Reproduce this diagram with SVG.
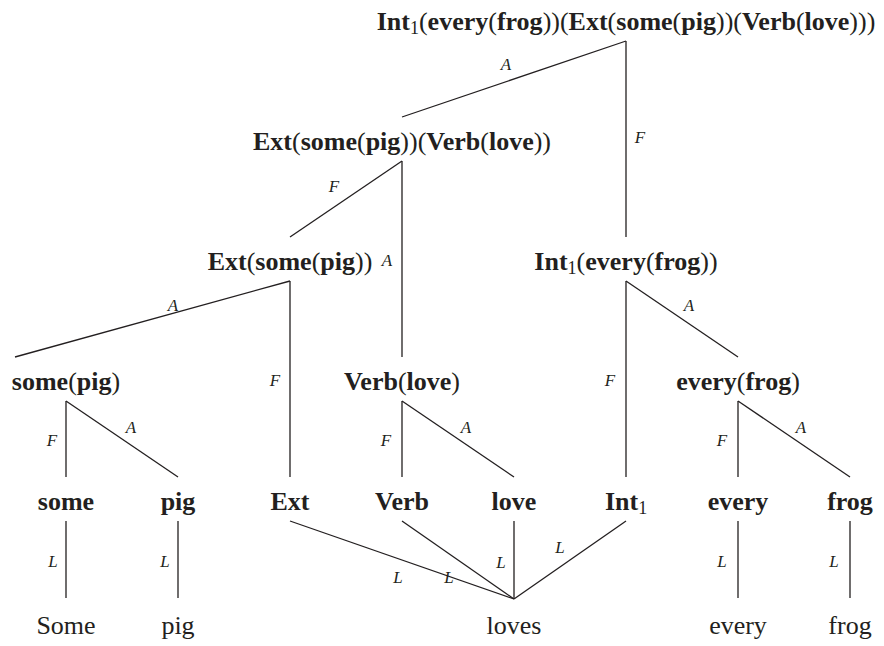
<svg xmlns="http://www.w3.org/2000/svg" width="884" height="646" viewBox="0 0 884 646">
<style>
.n{font-family:"Liberation Serif","Times New Roman",serif;font-size:26px;font-weight:bold;text-anchor:middle;fill:#231f20}
.p{font-weight:normal}
.s{font-weight:normal;font-size:18px}
.w{font-family:"Liberation Serif","Times New Roman",serif;font-size:26px;text-anchor:middle;fill:#231f20}
.l{font-family:"Liberation Serif","Times New Roman",serif;font-size:17px;font-style:italic;text-anchor:middle;fill:#231f20}
.e{stroke:#231f20;stroke-width:1.3;fill:none}
</style>
<rect width="884" height="646" fill="#fff"/>
<g id="connectors">
<line class="e" x1="626" y1="41" x2="402" y2="117"/>
<line class="e" x1="626" y1="41" x2="626" y2="237"/>
<line class="e" x1="402" y1="161" x2="290" y2="237"/>
<line class="e" x1="402" y1="161" x2="402" y2="357"/>
<line class="e" x1="290" y1="281" x2="15" y2="357"/>
<line class="e" x1="290" y1="281" x2="290" y2="477"/>
<line class="e" x1="626" y1="281" x2="626" y2="477"/>
<line class="e" x1="626" y1="281" x2="738" y2="357"/>
<line class="e" x1="66" y1="401" x2="66" y2="477"/>
<line class="e" x1="66" y1="401" x2="178" y2="477"/>
<line class="e" x1="402" y1="401" x2="402" y2="477"/>
<line class="e" x1="402" y1="401" x2="514" y2="477"/>
<line class="e" x1="738" y1="401" x2="738" y2="477"/>
<line class="e" x1="738" y1="401" x2="850" y2="477"/>
<line class="e" x1="66" y1="521" x2="66" y2="598"/>
<line class="e" x1="178" y1="521" x2="178" y2="598"/>
<line class="e" x1="738" y1="521" x2="738" y2="598"/>
<line class="e" x1="850" y1="521" x2="850" y2="598"/>
<line class="e" x1="290" y1="521" x2="514" y2="599"/>
<line class="e" x1="402" y1="521" x2="514" y2="599"/>
<line class="e" x1="514" y1="521" x2="514" y2="599"/>
<line class="e" x1="626" y1="521" x2="514" y2="599"/>
<text class="l" x="506" y="70">A</text>
<text class="l" x="640" y="143">F</text>
<text class="l" x="334" y="192">F</text>
<text class="l" x="387" y="266">A</text>
<text class="l" x="173" y="311">A</text>
<text class="l" x="275" y="386">F</text>
<text class="l" x="610" y="386">F</text>
<text class="l" x="689" y="311">A</text>
<text class="l" x="52" y="446">F</text>
<text class="l" x="131" y="433">A</text>
<text class="l" x="386" y="446">F</text>
<text class="l" x="466" y="433">A</text>
<text class="l" x="722" y="446">F</text>
<text class="l" x="801" y="433">A</text>
<text class="l" x="53" y="567">L</text>
<text class="l" x="165" y="567">L</text>
<text class="l" x="722" y="567">L</text>
<text class="l" x="834" y="567">L</text>
<text class="l" x="398" y="583">L</text>
<text class="l" x="449" y="583">L</text>
<text class="l" x="501" y="568">L</text>
<text class="l" x="560" y="553">L</text>
</g>
<g id="n-root"><text class="n" x="626" y="30">Int<tspan class="s" dy="4">1</tspan><tspan class="p" dy="-4">(</tspan>every<tspan class="p">(</tspan>frog<tspan class="p">))(</tspan>Ext<tspan class="p">(</tspan>some<tspan class="p">(</tspan>pig<tspan class="p">))(</tspan>Verb<tspan class="p">(</tspan>love<tspan class="p">)))</tspan></text></g>
<g id="n-extverb"><text class="n" x="402" y="150">Ext<tspan class="p">(</tspan>some<tspan class="p">(</tspan>pig<tspan class="p">))(</tspan>Verb<tspan class="p">(</tspan>love<tspan class="p">))</tspan></text></g>
<g id="n-extsome"><text class="n" x="290" y="270">Ext<tspan class="p">(</tspan>some<tspan class="p">(</tspan>pig<tspan class="p">))</tspan></text></g>
<g id="n-intevery"><text class="n" x="626" y="270">Int<tspan class="s" dy="4">1</tspan><tspan class="p" dy="-4">(</tspan>every<tspan class="p">(</tspan>frog<tspan class="p">))</tspan></text></g>
<g id="n-somepig"><text class="n" x="66" y="390">some<tspan class="p">(</tspan>pig<tspan class="p">)</tspan></text></g>
<g id="n-verblove"><text class="n" x="402" y="390">Verb<tspan class="p">(</tspan>love<tspan class="p">)</tspan></text></g>
<g id="n-everyfrog"><text class="n" x="738" y="390">every<tspan class="p">(</tspan>frog<tspan class="p">)</tspan></text></g>
<g id="n-some"><text class="n" x="66" y="510">some</text></g>
<g id="n-pig"><text class="n" x="178" y="510">pig</text></g>
<g id="n-ext"><text class="n" x="290" y="510">Ext</text></g>
<g id="n-verb"><text class="n" x="402" y="510">Verb</text></g>
<g id="n-love"><text class="n" x="514" y="510">love</text></g>
<g id="n-int"><text class="n" x="626" y="510">Int<tspan class="s" dy="4">1</tspan></text></g>
<g id="n-every"><text class="n" x="738" y="510">every</text></g>
<g id="n-frog"><text class="n" x="850" y="510">frog</text></g>
<g id="w-some"><text class="w" x="66" y="634">Some</text></g>
<g id="w-pig"><text class="w" x="178" y="634">pig</text></g>
<g id="w-loves"><text class="w" x="514" y="634">loves</text></g>
<g id="w-every"><text class="w" x="738" y="634">every</text></g>
<g id="w-frog"><text class="w" x="850" y="634">frog</text></g>
</svg>
